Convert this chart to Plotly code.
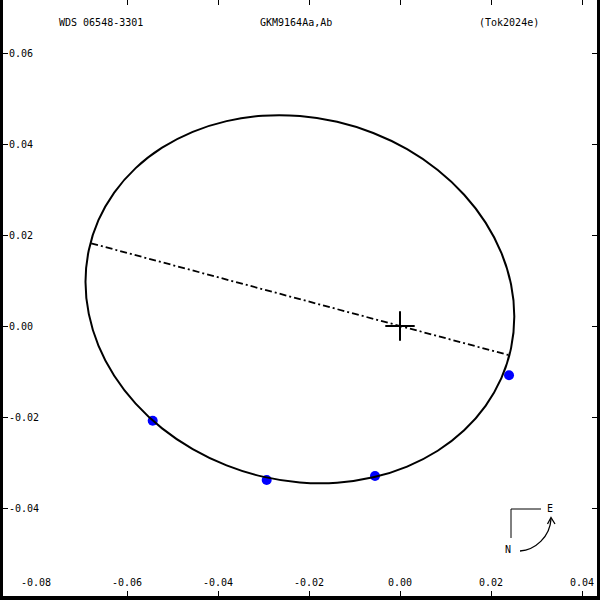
import plotly.graph_objects as go

# ---- data (arcsec offsets) ----
orbit_x = [-0.02200, -0.01382, -0.00588, 0.00156, 0.00829, 0.01410, 0.01881, 0.02228,
           0.02441, 0.02512, 0.02441, 0.02228, 0.01881, 0.01410, 0.00829, 0.00156,
           -0.00588, -0.01382, -0.02200, -0.03018, -0.03812, -0.04556, -0.05229, -0.05810,
           -0.06281, -0.06628, -0.06840, -0.06912, -0.06840, -0.06628, -0.06281, -0.05810,
           -0.05229, -0.04556, -0.03812, -0.03018, -0.02200]
orbit_y = [0.04615, 0.04488, 0.04242, 0.03885, 0.03428, 0.02885, 0.02272, 0.01607,
           0.00912, 0.00207, -0.00486, -0.01147, -0.01755, -0.02292, -0.02741, -0.03089,
           -0.03325, -0.03443, -0.03437, -0.03310, -0.03064, -0.02707, -0.02250, -0.01707,
           -0.01094, -0.00429, 0.00266, 0.00971, 0.01664, 0.02325, 0.02933, 0.03470,
           0.03919, 0.04267, 0.04503, 0.04621, 0.04615]

obs_x = [-0.05435, -0.02930, -0.00549, 0.02396]
obs_y = [-0.02081, -0.03385, -0.03297, -0.01084]

nodes_x = [-0.06787, 0.02380]
nodes_y = [0.01818, -0.00637]

primary_x = [0.0]
primary_y = [0.0]

tick_vals_x = [-0.08, -0.06, -0.04, -0.02, 0.00, 0.02, 0.04]
tick_text_x = ["-0.08", "-0.06", "-0.04", "-0.02", "0.00", "0.02", "0.04"]
tick_vals_y = [-0.04, -0.02, 0.00, 0.02, 0.04, 0.06]
tick_text_y = ["-0.04", "-0.02", "0.00", "0.02", "0.04", "0.06"]

title_left = "WDS 06548-3301"
title_mid = "GKM9164Aa,Ab"
title_right = "(Tok2024e)"

FONT = "DejaVu Sans Mono"

fig = go.Figure()

fig.add_trace(go.Scatter(x=obs_x, y=obs_y, mode="markers",
                         marker=dict(color="#0000ff", size=10, line=dict(width=0)),
                         hoverinfo="skip"))
fig.add_trace(go.Scatter(x=orbit_x, y=orbit_y, mode="lines",
                         line=dict(color="black", width=2, shape="spline", smoothing=1),
                         hoverinfo="skip"))
fig.add_trace(go.Scatter(x=nodes_x, y=nodes_y, mode="lines",
                         line=dict(color="black", width=1.8, dash="7px,3px,2px,3px"),
                         hoverinfo="skip"))
fig.add_trace(go.Scatter(x=primary_x, y=primary_y, mode="markers",
                         marker=dict(symbol="cross-thin-open", size=21, color="black",
                                     line=dict(color="black", width=2)),
                         hoverinfo="skip"))

W, H = 600, 600
ML, MR, MT, MB = 3, 3, 0, 4
PW, PH = W - ML - MR, H - MT - MB


def ax(px):
    return (px - ML) / PW


def ay(py):
    return 1 - (py - MT) / PH


def P(px, py):
    return f"{ax(px):.5f},{ay(py):.5f}"


shapes = [
    # frame: left, right, bottom (no top line in the reference)
    dict(type="line", xref="paper", yref="paper", x0=ax(1.5), x1=ax(1.5),
         y0=ay(0), y1=ay(600), line=dict(color="black", width=3)),
    dict(type="line", xref="paper", yref="paper", x0=ax(598.5), x1=ax(598.5),
         y0=ay(0), y1=ay(600), line=dict(color="black", width=3)),
    dict(type="line", xref="paper", yref="paper", x0=ax(0), x1=ax(600),
         y0=ay(598), y1=ay(598), line=dict(color="black", width=4)),
    # compass
    dict(type="path", xref="paper", yref="paper",
         path=f"M{P(541, 509)} L{P(511, 509)} L{P(511, 538)}",
         line=dict(color="black", width=1)),
    dict(type="path", xref="paper", yref="paper",
         path=f"M{P(520, 551)} C{P(535, 550)} {P(550, 537)} {P(551, 519)}",
         line=dict(color="black", width=1.3)),
    dict(type="path", xref="paper", yref="paper",
         path=f"M{P(547.5, 524)} L{P(551, 517.5)} L{P(555, 524)}",
         line=dict(color="black", width=1.3)),
]

annots = [
    dict(text=title_left, x=ax(101), y=ay(22), xref="paper"),
    dict(text=title_mid, x=ax(296), y=ay(22), xref="paper"),
    dict(text=title_right, x=ax(508.5), y=ay(22), xref="paper"),
    dict(text="E", x=ax(550), y=ay(508), xref="paper"),
    dict(text="N", x=ax(508), y=ay(549), xref="paper"),
]
# bottom tick labels, placed at the tick values on the x axis
for v, t in zip(tick_vals_x, tick_text_x):
    annots.append(dict(text=t, x=v, y=ay(582.5), xref="x"))
for a in annots:
    a.update(yref="paper", showarrow=False, xanchor="center",
             yanchor="middle", font=dict(family=FONT, size=10, color="black"))

S = 4550.0
x_range = [(ML - 400) / S, (W - MR - 400) / S]
y_range = [(326 - (H - MB)) / S, (326 - MT) / S]

fig.update_layout(
    width=W, height=H, autosize=False,
    margin=dict(l=ML, r=MR, t=MT, b=MB, pad=0),
    paper_bgcolor="white", plot_bgcolor="white",
    showlegend=False,
    shapes=shapes, annotations=annots,
    font=dict(family=FONT, size=10, color="black"),
    xaxis=dict(range=x_range, tickvals=tick_vals_x, ticktext=tick_text_x,
               ticks="inside", ticklen=5, tickwidth=1, tickcolor="black",
               showticklabels=False, showgrid=False, zeroline=False,
               showline=False, mirror="ticks"),
    yaxis=dict(range=y_range, tickvals=tick_vals_y, ticktext=tick_text_y,
               ticks="inside", ticklen=5, tickwidth=1, tickcolor="black",
               ticklabelposition="inside", showgrid=False, zeroline=False,
               showline=False, mirror="ticks",
               tickfont=dict(family=FONT, size=10, color="black")),
)

fig.write_html("out.html",
               config={"displayModeBar": False},
               post_script="document.body.style.margin='0';"
                           "document.body.style.overflow='hidden';")
